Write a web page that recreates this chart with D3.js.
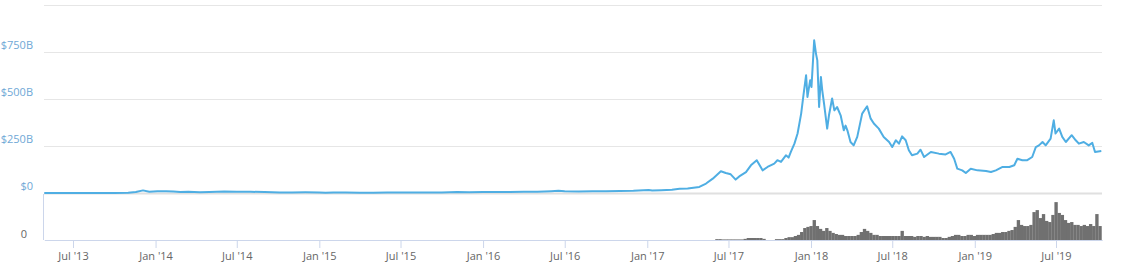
<!DOCTYPE html>
<html lang="en">
<head>
<meta charset="UTF-8">
<title>Total Market Capitalization</title>
<script src="https://d3js.org/d3.v7.min.js"></script>
<style>
  body { margin: 0; background: #fff; }
  svg { display: block; font-family: "Open Sans", sans-serif; }
</style>
</head>
<body>
<div id="chart"></div>
<script>
// market cap ($B)
var capDates = [
  "2013-04-28","2013-06-01","2013-07-01","2013-08-01","2013-09-01","2013-10-01","2013-11-01","2013-11-18",
  "2013-12-04","2013-12-18","2014-01-05","2014-01-25","2014-02-10","2014-02-25","2014-03-15","2014-04-10",
  "2014-05-01","2014-06-03","2014-07-01","2014-08-01","2014-09-01","2014-10-05","2014-11-01","2014-12-01",
  "2015-01-01","2015-01-15","2015-02-01","2015-03-01","2015-04-01","2015-05-01","2015-06-01","2015-07-10",
  "2015-08-01","2015-09-01","2015-10-01","2015-11-04","2015-12-01","2016-01-01","2016-02-01","2016-03-01",
  "2016-04-01","2016-05-01","2016-06-01","2016-06-17","2016-07-01","2016-08-01","2016-09-01","2016-10-01",
  "2016-11-01","2016-12-01","2017-01-04","2017-01-12","2017-02-01","2017-02-25","2017-03-14","2017-04-01",
  "2017-04-27","2017-05-12","2017-05-27","2017-06-14","2017-06-25","2017-07-06","2017-07-17","2017-07-25",
  "2017-08-09","2017-08-20","2017-09-02","2017-09-15","2017-09-26","2017-10-11","2017-10-18","2017-10-26",
  "2017-11-06","2017-11-12","2017-11-17","2017-11-25","2017-12-02","2017-12-10","2017-12-15","2017-12-21",
  "2017-12-24","2017-12-30","2018-01-02","2018-01-08","2018-01-12","2018-01-15","2018-01-19","2018-01-23",
  "2018-01-26","2018-01-30","2018-02-06","2018-02-10","2018-02-17","2018-02-22","2018-02-28","2018-03-08",
  "2018-03-15","2018-03-19","2018-03-23","2018-03-30","2018-04-06","2018-04-14","2018-04-25","2018-05-06",
  "2018-05-14","2018-05-21","2018-06-01","2018-06-12","2018-06-24","2018-07-01","2018-07-09","2018-07-16",
  "2018-07-23","2018-07-31","2018-08-07","2018-08-14","2018-08-26","2018-09-02","2018-09-10","2018-09-25",
  "2018-10-13","2018-10-28","2018-11-08","2018-11-16","2018-11-23","2018-12-04","2018-12-12","2018-12-23",
  "2019-01-07","2019-01-26","2019-02-06","2019-02-17","2019-03-04","2019-03-19","2019-03-30","2019-04-06",
  "2019-04-17","2019-04-28","2019-05-09","2019-05-17","2019-05-24","2019-06-01","2019-06-08","2019-06-19",
  "2019-06-26","2019-06-30","2019-07-08","2019-07-15","2019-07-23","2019-08-05","2019-08-14","2019-08-21",
  "2019-09-01","2019-09-12","2019-09-20","2019-09-26","2019-10-10"
];
var capValues = [
  1.5, 1.3, 1.1, 1.2, 1.5, 1.7, 2.6, 6.5,
  15.5, 8, 11.5, 10.5, 9.5, 7.5, 8.5, 5.6,
  6.3, 9, 8.6, 8, 6.8, 4.9, 4.7, 5.4,
  4.6, 3.2, 3.6, 3.9, 3.5, 3.5, 3.6, 4.4,
  4.5, 3.8, 3.9, 6.5, 6, 7, 6.5, 7.4,
  7.8, 8.4, 11.5, 13.5, 11.5, 10, 10.6, 10.9,
  12.3, 13.5, 17.5, 14.5, 16.5, 19.5, 24, 26,
  34, 52, 78, 117, 108, 101, 73, 90,
  113, 149, 176, 122, 140, 158, 176, 167,
  202, 190, 220, 264, 318, 424, 520, 628,
  512, 601, 565, 814, 743, 707, 459, 619,
  548, 477, 344, 415, 504, 441, 459, 415,
  335, 360, 335, 273, 255, 300, 424, 463,
  397, 371, 344, 300, 273, 246, 282, 264,
  303, 282, 229, 202, 211, 232, 193, 220,
  211, 207, 220, 184, 131, 122, 108, 131,
  122, 119, 113, 122, 140, 140, 149, 184,
  176, 176, 193, 246, 255, 273, 255, 291,
  388, 318, 344, 300, 273, 309, 282, 264,
  273, 255, 268, 220, 225
];

// weekly 24h volume ($B), first bar at volStart
var volStart = "2017-06-05";
var volValues = [
  3, 3, 2, 2, 2, 2, 2, 2, 2, 4, 7, 7, 7, 7, 7, 4, 0, 0, 0, 3, 3, 3, 7, 10,
  10, 14, 18, 28, 42, 46, 49, 70, 49, 39, 32, 42, 32, 25, 21, 18, 18, 14, 14, 14,
  14, 18, 28, 39, 32, 25, 18, 18, 14, 14, 14, 14, 14, 14, 14, 32, 14, 14, 14, 11,
  14, 14, 11, 14, 11, 11, 11, 11, 7, 7, 11, 14, 18, 18, 14, 14, 18, 18, 14, 18,
  18, 18, 18, 18, 21, 25, 25, 28, 28, 32, 35, 46, 70, 53, 49, 49, 53, 98, 105, 77,
  91, 67, 63, 88, 133, 95, 88, 70, 60, 63, 53, 53, 49, 53, 49, 56, 49, 91, 49
];

var yTicks = [0, 250, 500, 750, 1000];
var yLabels = ["$0", "$250B", "$500B", "$750B", ""];

var W = 1128, H = 273;
var svg = d3.select("#chart").append("svg")
  .attr("width", W).attr("height", H);

var x = d3.scaleTime()
  .domain([new Date(2013, 3, 28), new Date(2019, 9, 12)])
  .range([44.3, 1102.2]);
var yCap = d3.scaleLinear().domain([0, 1000]).range([193.3, 5.3]);
var yVol = d3.scaleLinear().domain([0, 165]).range([240, 193]);

var parse = d3.timeParse("%Y-%m-%d");
var capData = capDates.map(function(d, i) { return {date: parse(d), value: capValues[i]}; });
var volData = volValues.map(function(v, i) { return {date: d3.timeDay.offset(parse(volStart), i * 7), value: v}; });

// gridlines + labels
svg.append("g").selectAll("line")
  .data(yTicks.slice(1))
  .enter().append("line")
    .attr("x1", 44).attr("x2", 1102)
    .attr("y1", function(d) { return Math.round(yCap(d)) + 0.5; })
    .attr("y2", function(d) { return Math.round(yCap(d)) + 0.5; })
    .style("stroke", "#e6e6e6");

svg.append("line")
  .attr("x1", 44).attr("x2", 1102)
  .attr("y1", 193.5).attr("y2", 193.5)
  .style("stroke", "#e0e0e0").style("stroke-width", 2);

svg.append("g").selectAll("text")
  .data(yTicks)
  .enter().append("text")
    .attr("x", 33)
    .attr("y", function(d) { return yCap(d) - 3; })
    .attr("text-anchor", "end")
    .style("font-size", "11px")
    .style("fill", "#6fa8d6")
    .text(function(d, i) { return yLabels[i]; });

// volume pane left axis line
svg.append("line")
  .attr("x1", 43.5).attr("x2", 43.5)
  .attr("y1", 194).attr("y2", 240)
  .style("stroke", "#ccd6eb");

svg.append("text")
  .attr("x", 27).attr("y", 237.5)
  .attr("text-anchor", "end")
  .style("font-size", "11px")
  .style("fill", "#666")
  .text("0");

// volume bars
var bw = x(new Date(2017, 0, 8)) - x(new Date(2017, 0, 1));
svg.append("g").selectAll("rect")
  .data(volData)
  .enter().append("rect")
    .attr("x", function(d) { return x(d.date) - bw / 2; })
    .attr("y", function(d) { return yVol(d.value); })
    .attr("width", bw + 0.2)
    .attr("height", function(d) { return 240 - yVol(d.value); })
    .style("fill", "#707070");

// x axis
var xAxis = svg.append("g")
  .attr("transform", "translate(0,240)")
  .call(d3.axisBottom(x)
    .tickValues(d3.timeMonth.every(6).range(new Date(2013, 6, 1), new Date(2019, 7, 1)))
    .tickFormat(d3.timeFormat("%b '%y"))
    .tickSize(8)
    .tickSizeOuter(0)
    .tickPadding(4));
xAxis.select(".domain").style("stroke", "#ccd6eb");
xAxis.selectAll(".tick line").style("stroke", "#ccd6eb");
xAxis.selectAll("text")
  .style("font-size", "11px")
  .style("font-family", "Open Sans, sans-serif")
  .style("fill", "#666");

// market cap line
var line = d3.line()
  .x(function(d) { return x(d.date); })
  .y(function(d) { return yCap(d.value); });

svg.append("path")
  .datum(capData)
  .attr("d", line)
  .style("fill", "none")
  .style("stroke", "#4faee3")
  .style("stroke-width", 2)
  .style("stroke-linejoin", "round");
</script>
</body>
</html>
